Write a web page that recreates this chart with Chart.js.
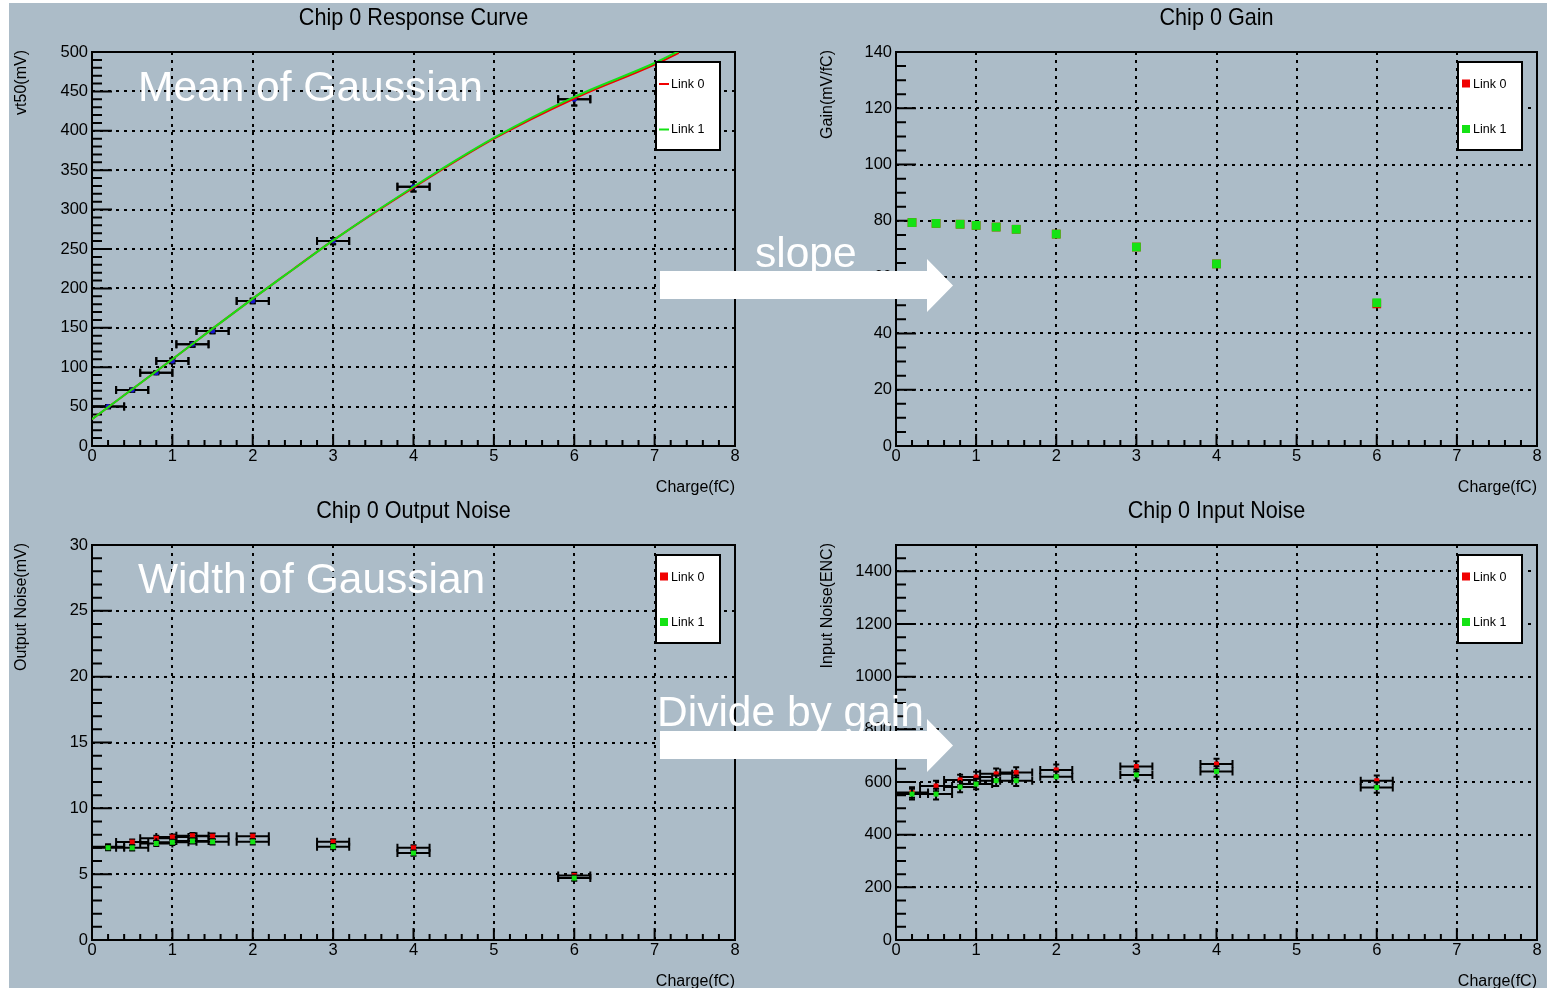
<!DOCTYPE html>
<html lang="en">
<head>
<meta charset="utf-8">
<title>Chip 0 calibration</title>
<script src="https://cdn.jsdelivr.net/npm/chart.js@4.4.1/dist/chart.umd.min.js"></script>
<style>
  html, body { margin: 0; padding: 0; background: #ffffff; }
  body { position: relative; width: 1547px; height: 990px; overflow: hidden;
         font-family: "Liberation Sans", Arial, Helvetica, sans-serif; }
  #backdrop { position: absolute; left: 9px; top: 3px; width: 1538px; height: 985px; background: #acbcc8; }
  .panel { position: absolute; }
  #arrows { position: absolute; left: 0; top: 0; width: 1547px; height: 990px; }
  .note { position: absolute; color: #ffffff; font-size: 42.5px; line-height: 42px; white-space: nowrap; }
</style>
</head>
<body>
<div id="backdrop"></div>
<canvas id="respCurve" class="panel" width="766" height="492" style="left:9px;top:3px;width:766px;height:492px"></canvas>
<canvas id="gainPlot" class="panel" width="772" height="492" style="left:775px;top:3px;width:772px;height:492px"></canvas>
<canvas id="outNoisePlot" class="panel" width="766" height="493" style="left:9px;top:495px;width:766px;height:493px"></canvas>
<canvas id="inNoisePlot" class="panel" width="772" height="493" style="left:775px;top:495px;width:772px;height:493px"></canvas>

<svg id="arrows" viewBox="0 0 1547 990">
  <polygon points="660,271 927,271 927,259 953,285.5 927,312 927,299 660,299" fill="#ffffff"/>
  <polygon points="660,731 927,731 927,719 953,745.5 927,772 927,759 660,759" fill="#ffffff"/>
</svg>
<div class="note" style="left:138px;top:65.5px">Mean of Gaussian</div>
<div class="note" style="left:138px;top:557.5px">Width of Gaussian</div>
<div class="note" style="left:755px;top:231.5px">slope</div>
<div class="note" style="left:657px;top:690.5px">Divide by gain</div>

<script>
// ---- measurements -------------------------------------------------------
// injected charge (fC) and half-width of each charge bin
const charge    = [0.2, 0.5, 0.8, 1.0, 1.25, 1.5, 2, 3, 4, 6];
const chargeErr = [0.2, 0.2, 0.2, 0.2, 0.2, 0.2, 0.2, 0.2, 0.2, 0.2];

// threshold at 50% occupancy (mV)
const vt50Link0 = [50, 71, 93, 108, 129, 146, 184, 260, 329, 440];
const vt50Link1 = [50, 71, 93, 108, 129, 146, 184, 260, 329, 440];
const vt50Err   = [2, 2, 2, 3, 3, 3, 3, 4, 6, 8];

// response-curve fit, sampled along the charge axis
const fitCharge = [0, 0.5, 1, 1.5, 2, 2.5, 3, 4, 5, 6, 7, 7.3];
const fitLink0  = [34, 72, 110, 149, 187, 224, 261, 328, 390, 441, 484, 499];
const fitLink1  = [34, 72, 110, 149, 187, 224, 261, 329, 391, 443, 486, 501];

// gain (mV/fC)
const gainLink0 = [79.4, 79.1, 78.8, 78.4, 77.8, 77.0, 75.3, 70.7, 64.7, 50.5];
const gainLink1 = [79.4, 79.1, 78.8, 78.4, 77.8, 77.0, 75.3, 70.7, 64.7, 50.9];

// output noise (mV)
const outNoiseLink0 = [7.08, 7.44, 7.72, 7.82, 7.92, 7.88, 7.88, 7.46, 7.00, 4.90];
const outNoiseLink1 = [7.01, 7.00, 7.33, 7.42, 7.52, 7.46, 7.46, 7.09, 6.60, 4.70];
const outNoiseErr   = [0.2, 0.2, 0.2, 0.2, 0.2, 0.2, 0.2, 0.2, 0.2, 0.2];

// input noise (ENC)
const inNoiseLink0 = [560, 585, 608, 619, 631, 636, 646, 659, 668, 605];
const inNoiseLink1 = [554, 554, 581, 592, 605, 605, 620, 627, 640, 579];
const inNoiseErr   = [20, 20, 20, 20, 20, 20, 20, 20, 20, 20];

// tick labels
const chargeTicks   = [0, 1, 2, 3, 4, 5, 6, 7, 8];
const vt50Ticks     = [0, 50, 100, 150, 200, 250, 300, 350, 400, 450, 500];
const gainTicks     = [0, 20, 40, 60, 80, 100, 120, 140];
const outNoiseTicks = [0, 5, 10, 15, 20, 25, 30];
const inNoiseTicks  = [0, 200, 400, 600, 800, 1000, 1200, 1400];

// ---- styling ------------------------------------------------------------
const FONT = '"Liberation Sans", Arial, Helvetica, sans-serif';
Chart.defaults.font.family = FONT;
Chart.defaults.color = '#000000';

const RED = '#f00000';
const GREEN = '#14e214';
const BLUE = '#1616cc';

const pts = (xs, ys) => xs.map((x, i) => ({ x: x, y: ys[i] }));

// ROOT-like frame: inward ticks, error bars, titles and boxed legend
const rootStyle = {
  id: 'rootStyle',
  beforeDatasetsDraw(chart, args, o) {
    const { ctx, chartArea: a, scales } = chart;
    const row = (scale, minor, major, majorLen, minorLen, draw) => {
      const n = Math.round((scale.max - scale.min) / minor);
      for (let i = 0; i <= n; i++) {
        const v = scale.min + i * minor;
        const r = v / major;
        const isMajor = Math.abs(r - Math.round(r)) < 1e-6;
        draw(scale.getPixelForValue(v), isMajor ? majorLen : minorLen);
      }
    };
    ctx.save();
    ctx.strokeStyle = '#000000';
    ctx.lineWidth = 2;
    ctx.beginPath();
    row(scales.x, o.xMinor, o.xMajor, 12, 6, (p, len) => {
      ctx.moveTo(p, a.bottom); ctx.lineTo(p, a.bottom - len);
    });
    row(scales.y, o.yMinor, o.yMajor, 20, 10, (p, len) => {
      ctx.moveTo(a.left, p); ctx.lineTo(a.left + len, p);
    });
    ctx.stroke();
    ctx.strokeRect(a.left, a.top, a.width, a.height);
    ctx.restore();
  },
  beforeDatasetDraw(chart, args) {
    const ds = chart.data.datasets[args.index];
    if (!ds.xErr && !ds.yErr) return;
    const { ctx, chartArea: a, scales: { x, y } } = chart;
    ctx.save();
    ctx.beginPath();
    ctx.rect(a.left, a.top, a.width, a.height);
    ctx.clip();
    ctx.strokeStyle = '#000000';
    ctx.lineWidth = 2;
    ctx.beginPath();
    ds.data.forEach((p, i) => {
      const px = x.getPixelForValue(p.x);
      const py = y.getPixelForValue(p.y);
      if (ds.xErr) {
        const x0 = x.getPixelForValue(p.x - ds.xErr[i]);
        const x1 = x.getPixelForValue(p.x + ds.xErr[i]);
        ctx.moveTo(x0, py); ctx.lineTo(x1, py);
        ctx.moveTo(x0, py - 4); ctx.lineTo(x0, py + 4);
        ctx.moveTo(x1, py - 4); ctx.lineTo(x1, py + 4);
      }
      if (ds.yErr) {
        const y0 = y.getPixelForValue(p.y - ds.yErr[i]);
        const y1 = y.getPixelForValue(p.y + ds.yErr[i]);
        ctx.moveTo(px, y0); ctx.lineTo(px, y1);
        ctx.moveTo(px - 3, y0); ctx.lineTo(px + 3, y0);
        ctx.moveTo(px - 3, y1); ctx.lineTo(px + 3, y1);
      }
    });
    ctx.stroke();
    ctx.restore();
  },
  afterDraw(chart, args, o) {
    const { ctx, chartArea: a } = chart;
    ctx.save();
    ctx.fillStyle = '#000000';
    ctx.textBaseline = 'middle';

    // panel title, in a slightly condensed Helvetica look
    ctx.save();
    ctx.font = '24px ' + FONT;
    ctx.textAlign = 'center';
    ctx.translate((a.left + a.right) / 2, a.top - 34);
    ctx.scale(0.9, 1);
    ctx.fillText(o.title, 0, 0);
    ctx.restore();

    ctx.font = '16px ' + FONT;
    ctx.textAlign = 'right';
    ctx.fillText(o.xTitle, a.right, a.bottom + 42);
    ctx.save();
    ctx.translate(a.left - o.yTitleGap, a.top - 2);
    ctx.rotate(-Math.PI / 2);
    ctx.fillText(o.yTitle, 0, 0);
    ctx.restore();

    // legend box
    const items = chart.data.datasets.filter(d => d.legendSymbol);
    const bw = 64, bh = 88;
    const bx = a.right - 15 - bw, by = a.top + 10;
    ctx.fillStyle = '#ffffff';
    ctx.fillRect(bx, by, bw, bh);
    ctx.strokeStyle = '#000000';
    ctx.lineWidth = 2;
    ctx.strokeRect(bx, by, bw, bh);
    items.forEach((d, i) => {
      const cy = by + 22 + i * 45.5;
      if (d.legendSymbol === 'line') {
        ctx.strokeStyle = d.borderColor;
        ctx.lineWidth = 2;
        ctx.beginPath();
        ctx.moveTo(bx + 3, cy); ctx.lineTo(bx + 13, cy);
        ctx.stroke();
      } else {
        ctx.fillStyle = d.backgroundColor;
        ctx.fillRect(bx + 4, cy - 4.5, 8, 8);
      }
      ctx.fillStyle = '#000000';
      ctx.font = '12.5px ' + FONT;
      ctx.textAlign = 'left';
      ctx.fillText(d.label, bx + 15, cy + 0.5);
    });
    ctx.restore();
  }
};

function panel(id, spec) {
  const tickFont = { size: 16.5 };
  const grid = { color: '#000000', lineWidth: 2, drawTicks: false };
  const border = { display: false, dash: [3, 5] };
  return new Chart(document.getElementById(id), {
    type: 'scatter',
    data: { datasets: spec.datasets },
    options: {
      responsive: false,
      animation: false,
      events: [],
      layout: { padding: { top: spec.top, right: spec.right, left: 0, bottom: 0 } },
      plugins: {
        legend: { display: false },
        tooltip: { enabled: false },
        rootStyle: spec.frame
      },
      scales: {
        x: {
          type: 'linear', min: 0, max: 8,
          ticks: { padding: 1, font: tickFont, color: '#000000', autoSkip: false, maxRotation: 0,
                   callback: v => String(v) },
          afterBuildTicks: s => { s.ticks = chargeTicks.map(v => ({ value: v })); },
          afterFit: s => { s.height = spec.bottom; },
          grid: grid, border: border
        },
        y: {
          type: 'linear', min: spec.yMin, max: spec.yMax,
          ticks: { padding: 4, font: tickFont, color: '#000000', autoSkip: false,
                   callback: v => String(v) },
          afterBuildTicks: s => { s.ticks = spec.yTicks.map(v => ({ value: v })); },
          afterFit: s => { s.width = spec.left; },
          grid: grid, border: border
        }
      }
    },
    plugins: [rootStyle]
  });
}

const markerSet = (label, ys, color, radius, order, yErr) => ({
  label: label,
  data: pts(charge, ys),
  xErr: chargeErr,
  yErr: yErr,
  pointStyle: 'rect',
  pointRadius: radius,
  backgroundColor: color,
  borderColor: color,
  borderWidth: 0,
  order: order
});

// Response curve
panel('respCurve', {
  left: 83, right: 40, top: 49, bottom: 49,
  yMin: 0, yMax: 500, yTicks: vt50Ticks,
  frame: { title: 'Chip 0 Response Curve', xTitle: 'Charge(fC)', yTitle: 'vt50(mV)', yTitleGap: 70,
           xMajor: 1, xMinor: 0.2, yMajor: 50, yMinor: 10 },
  datasets: [
    { label: 'Link 0', data: pts(fitCharge, fitLink0), showLine: true, borderColor: RED, borderWidth: 2,
      pointRadius: 0, cubicInterpolationMode: 'monotone', legendSymbol: 'line', order: 1, clip: 0 },
    { label: 'Link 1', data: pts(fitCharge, fitLink1), showLine: true, borderColor: GREEN, borderWidth: 2,
      pointRadius: 0, cubicInterpolationMode: 'monotone', legendSymbol: 'line', order: 0, clip: 0 },
    Object.assign(markerSet('Link 0', vt50Link0, BLUE, 2.5, 3, vt50Err), { pointStyle: 'circle' }),
    Object.assign(markerSet('Link 1', vt50Link1, BLUE, 2.5, 2, vt50Err), { pointStyle: 'circle' })
  ]
});

// Gain
panel('gainPlot', {
  left: 121, right: 10, top: 49, bottom: 49,
  yMin: 0, yMax: 140, yTicks: gainTicks,
  frame: { title: 'Chip 0 Gain', xTitle: 'Charge(fC)', yTitle: 'Gain(mV/fC)', yTitleGap: 68,
           xMajor: 1, xMinor: 0.2, yMajor: 20, yMinor: 5 },
  datasets: [
    Object.assign(markerSet('Link 0', gainLink0, RED, 6.2, 1), { xErr: null, legendSymbol: 'box' }),
    Object.assign(markerSet('Link 1', gainLink1, GREEN, 6.2, 0), { xErr: null, legendSymbol: 'box' })
  ]
});

// Output noise
panel('outNoisePlot', {
  left: 83, right: 40, top: 50, bottom: 48,
  yMin: 0, yMax: 30, yTicks: outNoiseTicks,
  frame: { title: 'Chip 0 Output Noise', xTitle: 'Charge(fC)', yTitle: 'Output Noise(mV)', yTitleGap: 70,
           xMajor: 1, xMinor: 0.2, yMajor: 5, yMinor: 1 },
  datasets: [
    Object.assign(markerSet('Link 0', outNoiseLink0, RED, 3.5, 1, outNoiseErr), { legendSymbol: 'box' }),
    Object.assign(markerSet('Link 1', outNoiseLink1, GREEN, 3.5, 0, outNoiseErr), { legendSymbol: 'box' })
  ]
});

// Input noise
panel('inNoisePlot', {
  left: 121, right: 10, top: 50, bottom: 48,
  yMin: 0, yMax: 1500, yTicks: inNoiseTicks,
  frame: { title: 'Chip 0 Input Noise', xTitle: 'Charge(fC)', yTitle: 'Input Noise(ENC)', yTitleGap: 68,
           xMajor: 1, xMinor: 0.2, yMajor: 200, yMinor: 50 },
  datasets: [
    Object.assign(markerSet('Link 0', inNoiseLink0, RED, 3.5, 1, inNoiseErr), { legendSymbol: 'box' }),
    Object.assign(markerSet('Link 1', inNoiseLink1, GREEN, 3.5, 0, inNoiseErr), { legendSymbol: 'box' })
  ]
});
</script>
</body>
</html>
